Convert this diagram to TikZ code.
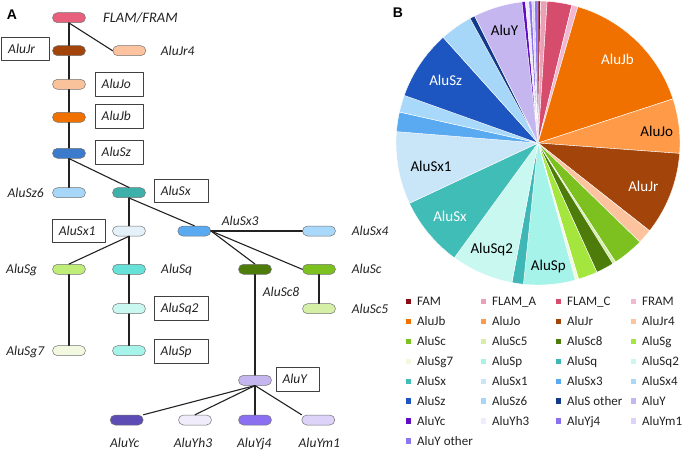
\documentclass[tikz,border=0pt]{standalone}
\usepackage{fontspec}
\setmainfont{Carlito}
\newfontfamily\panelfont{Liberation Sans}
\usetikzlibrary{positioning}
\definecolor{cFam}{HTML}{8B0A14}
\definecolor{cFlamA}{HTML}{EBA0B6}
\definecolor{cFlamC}{HTML}{D64C6C}
\definecolor{cFram}{HTML}{F2B8D2}
\definecolor{cJb}{HTML}{F07000}
\definecolor{cJo}{HTML}{FF9B48}
\definecolor{cJr}{HTML}{A3450B}
\definecolor{cJrf}{HTML}{FCC39E}
\definecolor{cSc}{HTML}{7CC11F}
\definecolor{cScf}{HTML}{D5F0A6}
\definecolor{cSce}{HTML}{4D7C0B}
\definecolor{cSg}{HTML}{A4E63E}
\definecolor{cSgs}{HTML}{F3F9E0}
\definecolor{cSp}{HTML}{A6F3EA}
\definecolor{cSq}{HTML}{3FB7B7}
\definecolor{cSqt}{HTML}{C8F8F0}
\definecolor{cSx}{HTML}{40BDB6}
\definecolor{cSxo}{HTML}{C9E5F8}
\definecolor{cSxt}{HTML}{5AAAF2}
\definecolor{cSxf}{HTML}{A9D9FA}
\definecolor{cSz}{HTML}{1D56C0}
\definecolor{cSzs}{HTML}{A6D6F8}
\definecolor{cSo}{HTML}{133A8A}
\definecolor{cY}{HTML}{C5B6F0}
\definecolor{cYc}{HTML}{5E0DC0}
\definecolor{cYh}{HTML}{F0ECFC}
\definecolor{cYj}{HTML}{8A70F0}
\definecolor{cYm}{HTML}{DDD2F8}
\definecolor{cYo}{HTML}{8B78F0}
\definecolor{tFlam}{HTML}{E8607C}
\definecolor{tJo}{HTML}{FAC29A}
\definecolor{tSz}{HTML}{3C7ACC}
\definecolor{tSx}{HTML}{3DB0AA}
\definecolor{tSxo}{HTML}{E4F1FA}
\definecolor{tSq}{HTML}{66E2D8}
\definecolor{tYc}{HTML}{5C4CB4}
\definecolor{ink}{HTML}{222222}
\begin{document}
\begin{tikzpicture}[x=1pt,y=-1pt,line join=round,line cap=round,
	pill/.style={draw=black!55,line width=0.5pt,rounded corners=5pt,minimum width=33pt,minimum height=10pt,inner sep=0pt,fill=#1},
	tag/.style={draw=black!75,line width=0.6pt,fill=white,inner xsep=6.5pt,inner ysep=0pt,minimum height=23.5pt,text width=#1,align=left,text height=9pt,text depth=0pt,text=ink,font=\fontsize{13.5}{16}\selectfont\itshape},
	tag/.default=35pt,
	lab/.style={inner sep=0pt,text height=9pt,text depth=0pt,text=ink,font=\fontsize{13.5}{16}\selectfont\itshape},
	edge/.style={line width=1.1pt,ink},
	swatch/.style={fill=#1,minimum size=5.5pt,inner sep=0pt},
	keylab/.style={inner sep=0pt,text height=8.5pt,text depth=0pt,text=ink,font=\fontsize{13}{15}\selectfont},
	slab/.style={inner sep=0pt,font=\fontsize{15}{17}\selectfont}]
	\useasboundingbox (0,0) rectangle (684,451);
	\node[font=\panelfont\bfseries\fontsize{14}{16}\selectfont] (pa) at (12,15) {A};
	\node[font=\panelfont\bfseries\fontsize{14}{16}\selectfont] (pb) at (398,13) {B};
	\node[pill=tFlam] (flam) at (69,17.7) {};
	\node[pill=cJr] (jr) at (69,50.7) {};
	\node[pill=cJrf] (jr4) at (129.3,50.7) {};
	\node[pill=tJo] (jo) at (69,84.3) {};
	\node[pill=cJb] (jb) at (69,117.3) {};
	\node[pill=tSz] (sz) at (69,153.3) {};
	\node[pill=cSzs] (sz6) at (69,192.7) {};
	\node[pill=tSx] (sx) at (129,192.7) {};
	\node[pill=tSxo] (sx1) at (129,231) {};
	\node[pill=cSxt] (sx3) at (194.3,231) {};
	\node[pill=cSxf] (sx4) at (319,231) {};
	\node[pill=cSg!70!white] (sg) at (69,269.3) {};
	\node[pill=tSq] (sq) at (129,269.3) {};
	\node[pill=cSce] (sc8) at (255,269.3) {};
	\node[pill=cSc] (sc) at (319,269.3) {};
	\node[pill=cSqt] (sq2) at (129,308.7) {};
	\node[pill=cScf] (sc5) at (319,308.7) {};
	\node[pill=cSgs] (sg7) at (69,350.7) {};
	\node[pill=cSp] (sp) at (129,350.7) {};
	\node[pill=cY] (y) at (255,380.3) {};
	\node[pill=tYc] (yc) at (126.7,420) {};
	\node[pill=cYh] (yh3) at (195,420) {};
	\node[pill=cYj] (yj4) at (255,420) {};
	\node[pill=cYm] (ym1) at (318.3,420) {};
	\draw[edge] (flam) -- (jr) -- (jo) -- (jb) -- (sz) -- (sz6);
	\draw[edge] (flam.south) -- (jr4.west);
	\draw[edge] (sz.south) -- (sx.north);
	\draw[edge] (sx) -- (sx1) -- (sq) -- (sq2) -- (sp);
	\draw[edge] (sx.south) -- (sx3.north);
	\draw[edge] (sx1.south) -- (sg.north);
	\draw[edge] (sg) -- (sg7);
	\draw[edge] (sx3) -- (sx4);
	\draw[edge] (sx3.east) -- (sc8.north);
	\draw[edge] (sx3.east) -- (sc.west);
	\draw[edge] (sc) -- (sc5);
	\draw[edge] (sc8) -- (y) -- (yj4);
	\draw[edge] (y.south) -- (yc.north east);
	\draw[edge] (y.south) -- (yh3.north);
	\draw[edge] (y.south) -- (ym1.north west);
	\node[tag=34.6pt] (tjr) at (25.5,48.7) {AluJr};
	\node[tag] (tjo) at (119.2,84.2) {AluJo};
	\node[tag] (tjb) at (119.2,116.3) {AluJb};
	\node[tag] (tsz) at (119.2,152.3) {AluSz};
	\node[tag=41pt] (tsx) at (181.3,191) {AluSx};
	\node[tag=39.7pt] (tsx1) at (78.7,231) {AluSx1};
	\node[tag=41pt] (tsq2) at (181.3,308.3) {AluSq2};
	\node[tag=41pt] (tsp) at (181.2,351.2) {AluSp};
	\node[tag=30.3pt] (ty) at (297.7,379.2) {AluY};
	\node[lab,anchor=west,font=\fontsize{14.5}{16}\selectfont\itshape] (lflam) at (103,17.7) {FLAM/FRAM};
	\node[lab,anchor=west] (ljr4) at (160.7,50.7) {AluJr4};
	\node[lab,anchor=east] (lsz6) at (44,192.7) {AluSz6};
	\node[lab,anchor=west] (lsx3) at (221.7,220.7) {AluSx3};
	\node[lab,anchor=west] (lsx4) at (351.7,231) {AluSx4};
	\node[lab,anchor=east] (lsg) at (37.3,269.3) {AluSg};
	\node[lab,anchor=west] (lsq) at (161,269.3) {AluSq};
	\node[lab,anchor=west] (lsc8) at (262.7,291.7) {AluSc8};
	\node[lab,anchor=west] (lsc) at (351.7,269.3) {AluSc};
	\node[lab,anchor=west] (lsc5) at (351.7,308.7) {AluSc5};
	\node[lab,anchor=east] (lsg7) at (44.3,350.7) {AluSg7};
	\node[lab] (lyc) at (124.7,442.7) {AluYc};
	\node[lab] (lyh3) at (193,442.7) {AluYh3};
	\node[lab] (lyj4) at (254.3,442.7) {AluYj4};
	\node[lab] (lym1) at (319.3,442.7) {AluYm1};
	\coordinate (pc) at (538,143);
	\foreach \a/\b/\col in {
		0/1.1/cFam, 1.1/3.7/cFlamA, 3.7/13.8/cFlamC, 13.8/16.3/cFram, 16.3/71.9/cJb, 71.9/94.2/cJo,
		94.2/128.2/cJr, 128.2/134.2/cJrf, 134.2/146.9/cSc, 146.9/148.2/cScf, 148.2/155.5/cSce,
		155.5/163.4/cSg, 163.4/164.8/cSgs, 164.8/185.9/cSp, 185.9/190.6/cSq, 190.6/216.1/cSqt,
		216.1/244.9/cSx, 244.9/274.6/cSxo, 274.6/282.6/cSxt, 282.6/289.6/cSxf, 289.6/318.1/cSz,
		318.1/331.4/cSzs, 331.4/333.5/cSo, 333.5/353.5/cY, 353.5/354.9/cYc, 354.9/356.3/cYh,
		356.3/357.5/cYj, 357.5/358.6/cYm, 358.6/360/cYo} {
		\filldraw[fill=\col,draw=white,line width=0.4pt] (pc) -- ++(\a-90:142) arc[start angle=\a-90,end angle=\b-90,radius=142] -- cycle;
	}
	\node[slab,text=white] (sjb) at (617.5,59.5) {AluJb};
	\node[slab] (sjo) at (656.8,131) {AluJo};
	\node[slab,text=white] (sjr) at (643.3,186) {AluJr};
	\node[slab] (ssp) at (548.3,266.7) {AluSp};
	\node[slab] (ssq2) at (491.7,249.3) {AluSq2};
	\node[slab,text=white] (ssx) at (450,216) {AluSx};
	\node[slab] (ssx1) at (431,166) {AluSx1};
	\node[slab,text=white] (ssz) at (445.7,80.7) {AluSz};
	\node[slab] (sy) at (504.5,30.7) {AluY};
	\foreach \lab/\col [count=\i from 0] in {
		FAM/cFam, FLAM\_A/cFlamA, FLAM\_C/cFlamC, FRAM/cFram,
		AluJb/cJb, AluJo/cJo, AluJr/cJr, AluJr4/cJrf,
		AluSc/cSc, AluSc5/cScf, AluSc8/cSce, AluSg/cSg,
		AluSg7/cSgs, AluSp/cSp, AluSq/cSq, AluSq2/cSqt,
		AluSx/cSx, AluSx1/cSxo, AluSx3/cSxt, AluSx4/cSxf,
		AluSz/cSz, AluSz6/cSzs, AluS other/cSo, AluY/cY,
		AluYc/cYc, AluYh3/cYh, AluYj4/cYj, AluYm1/cYm,
		AluY other/cYo} {
		\pgfmathsetmacro\lx{408.5+75*mod(\i,4)}
		\pgfmathsetmacro\ly{301.5+19.94*floor(\i/4)}
		\node[swatch=\col] (k\i) at (\lx,\ly) {};
		\node[keylab,anchor=west] (kl\i) at ([xshift=5.5pt]k\i.east) {\lab};
	}
\end{tikzpicture}
\end{document}
